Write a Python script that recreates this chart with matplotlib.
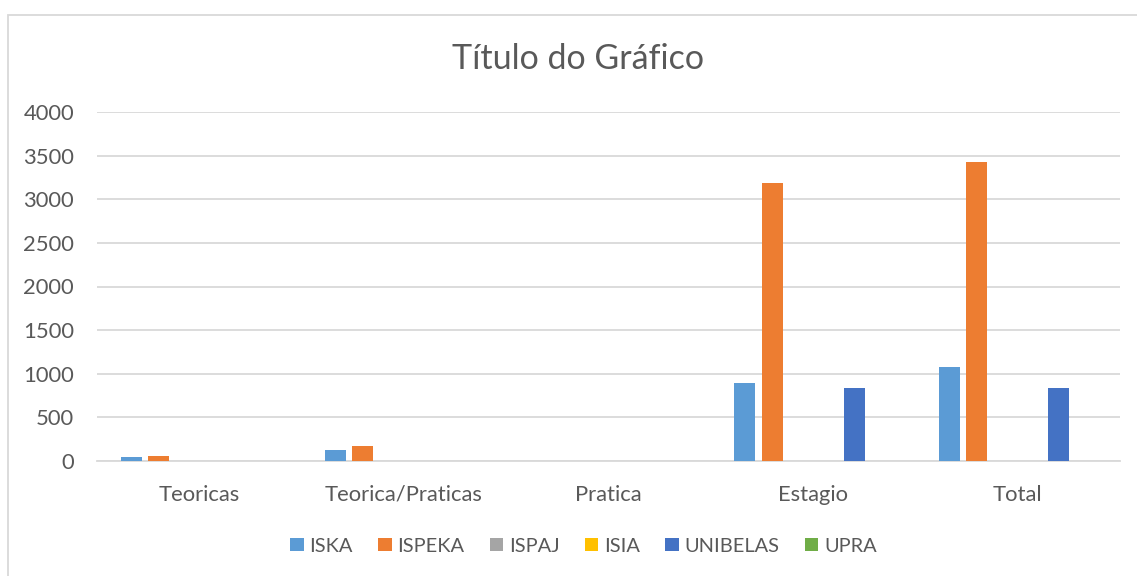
import numpy as np
import matplotlib
matplotlib.use("Agg")
import matplotlib.pyplot as plt
from matplotlib.patches import Rectangle

plt.rcParams['font.family'] = ['Lato', 'DejaVu Sans']

categories = ["Teoricas", "Teorica/Praticas", "Pratica", "Estagio", "Total"]
series_names = ["ISKA", "ISPEKA", "ISPAJ", "ISIA", "UNIBELAS", "UPRA"]
iska = [42, 130, 0, 895, 1075]
ispeka = [57, 176, 0, 3190, 3430]
ispaj = [0, 0, 0, 0, 0]
isia = [0, 0, 0, 0, 0]
unibelas = [0, 0, 0, 835, 835]
upra = [0, 0, 0, 0, 0]
yticks = [0, 500, 1000, 1500, 2000, 2500, 3000, 3500, 4000]

colors = ["#5B9BD5", "#ED7D31", "#A5A5A5", "#FFC000", "#4472C4", "#70AD47"]
text_col = "#595959"
grid_col = "#D9D9D9"

fig = plt.figure(figsize=(11.37, 5.76), dpi=100)
ax = fig.add_axes([97/1137, 1 - 461/576, (1120-97)/1137, (461-112)/576])

x = np.arange(len(categories))
pitch = 0.1334
width = 0.1026
for i, (name, vals) in enumerate(zip(series_names, [iska, ispeka, ispaj, isia, unibelas, upra])):
    ax.bar(x + (i - 2.5) * pitch, vals, width, color=colors[i], label=name, zorder=3)

ax.set_xlim(-0.5, len(categories) - 0.5)
ax.set_ylim(0, 4000)
ax.set_yticks(yticks)
ax.set_xticks(x)
ax.set_xticklabels(categories)
ax.yaxis.grid(True, color=grid_col, lw=1.3, zorder=0)
for s in ["top", "right", "left"]:
    ax.spines[s].set_visible(False)
ax.spines["bottom"].set_color(grid_col)
ax.spines["bottom"].set_linewidth(1.3)
ax.tick_params(axis="both", length=0, labelsize=15.8, labelcolor=text_col)
ax.tick_params(axis="y", pad=16.5)
ax.tick_params(axis="x", pad=17)

fig.text(578/1137, 1 - 59/576, "Título do Gráfico", ha="center", va="center",
         fontsize=24.5, color=text_col)

leg = fig.legend(loc="center", bbox_to_anchor=(583.5/1137, 1 - 546/576), ncol=6,
                 frameon=False, fontsize=14.4, handlelength=0.68, handleheight=0.68,
                 handletextpad=0.3, columnspacing=1.25)
for t in leg.get_texts():
    t.set_color(text_col)

fig.add_artist(Rectangle((8/1137, -0.1), 2, 1 - 15/576 + 0.1, transform=fig.transFigure,
                         fill=False, edgecolor=grid_col, lw=1.3))

fig.savefig("out.png", dpi=100)
